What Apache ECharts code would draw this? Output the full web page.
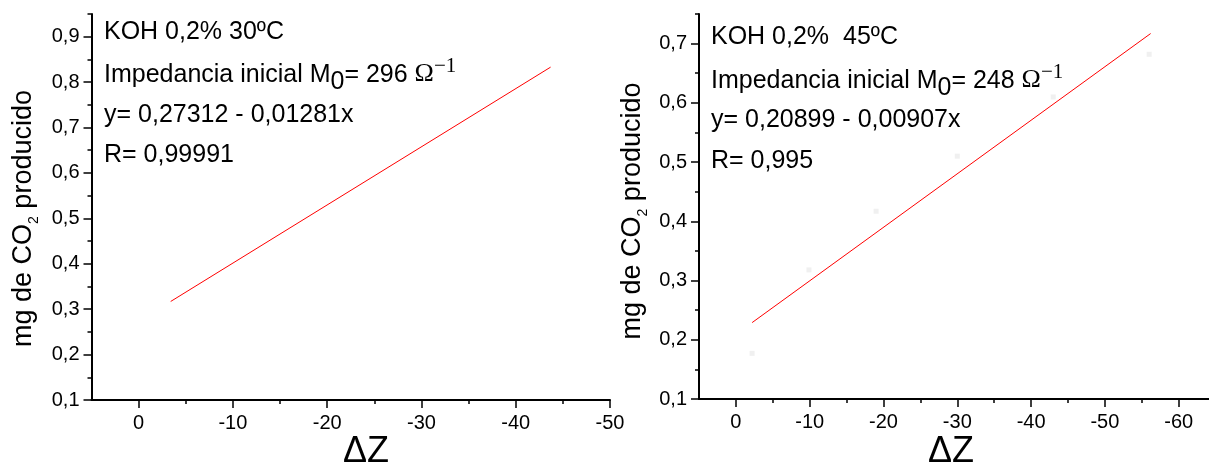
<!DOCTYPE html>
<html>
<head>
<meta charset="utf-8">
<script src="https://cdn.jsdelivr.net/npm/echarts@6/dist/echarts.min.js"></script>
<style>
  html, body { margin: 0; padding: 0; background: #fff; }
  #chart { width: 1209px; height: 462px; }
</style>
</head>
<body>
<div id="chart"></div>
<script>
// KOH 0,2% at 30 ºC: fitted line end points (ΔZ, mg CO2)
const fit30Z = [-3.4, -43.7];
const fit30CO2 = [0.317, 0.833];

// KOH 0,2% at 45 ºC: measured points and fitted line end points
const meas45Z = [-2.2, -9.9, -19, -30, -43, -56];
const meas45CO2 = [0.177, 0.318, 0.417, 0.51, 0.61, 0.682];
const fit45Z = [-2.2, -56.2];
const fit45CO2 = [0.229, 0.717];

// tick positions
const xMajor30 = [0, -10, -20, -30, -40, -50];
const xMinor30 = [-5, -15, -25, -35, -45];
const yMajor30 = [0.1, 0.2, 0.3, 0.4, 0.5, 0.6, 0.7, 0.8, 0.9];
const yMinor30 = [0.15, 0.25, 0.35, 0.45, 0.55, 0.65, 0.75, 0.85, 0.95];
const xMajor45 = [0, -10, -20, -30, -40, -50, -60, -70];
const xMinor45 = [-5, -15, -25, -35, -45, -55, -65];
const yMajor45 = [0.1, 0.2, 0.3, 0.4, 0.5, 0.6, 0.7];
const yMinor45 = [0.15, 0.25, 0.35, 0.45, 0.55, 0.65, 0.75];

const SANS = 'Liberation Sans, Arial, sans-serif';
const SERIF = 'Liberation Serif, Times New Roman, serif';
const INK = '#000';
const NOTE_SIZE = 25;

const pairs = (xs, ys) => xs.map((x, i) => [x, ys[i]]);
const comma = (v) => String(Math.round(v * 10) / 10).replace('.', ',');

function xAxisPair(grid, min, major, minor) {
  const base = {
    type: 'value', gridIndex: grid, position: 'bottom', inverse: true, min: min, max: 5, interval: 10,
    splitLine: { show: false }
  };
  return [
    Object.assign({}, base, {
      axisLine: { show: true, onZero: false, lineStyle: { color: INK, width: 2 } },
      axisTick: { show: true, inside: false, length: 8, customValues: major, lineStyle: { color: INK, width: 1.5 } },
      axisLabel: { show: true, customValues: major, margin: 13, color: INK, fontSize: 20, fontFamily: SANS,
                   formatter: (v) => String(v) }
    }),
    Object.assign({}, base, {
      axisLine: { show: false, onZero: false },
      axisTick: { show: true, inside: false, length: 4, customValues: minor, lineStyle: { color: INK, width: 1.5 } },
      axisLabel: { show: false }
    })
  ];
}

function yAxisPair(grid, max, major, minor) {
  const base = {
    type: 'value', gridIndex: grid, position: 'left', min: 0.1, max: max, interval: 0.1,
    splitLine: { show: false }
  };
  return [
    Object.assign({}, base, {
      axisLine: { show: true, onZero: false, lineStyle: { color: INK, width: 2 } },
      axisTick: { show: true, inside: false, length: 8, customValues: major, lineStyle: { color: INK, width: 1.5 } },
      axisLabel: { show: true, customValues: major, margin: 12, color: INK, fontSize: 20, fontFamily: SANS,
                   formatter: comma }
    }),
    Object.assign({}, base, {
      axisLine: { show: false, onZero: false },
      axisTick: { show: true, inside: false, length: 4, customValues: minor, lineStyle: { color: INK, width: 1.5 } },
      axisLabel: { show: false }
    })
  ];
}

// one annotation line; y is given as the text baseline
function plainLine(x, baseline, text) {
  return {
    type: 'text', x: x, y: baseline - 0.3465 * NOTE_SIZE, silent: true,
    style: { text: text, fill: INK, fontSize: NOTE_SIZE, fontFamily: SANS, verticalAlign: 'middle', align: 'left' }
  };
}

// "Impedancia inicial M0= ... Ω−1" with lowered 0 and raised −1
function impedanceLine(x, baseline, value) {
  const drop = 7;
  return {
    type: 'text', x: x, y: baseline + drop + NOTE_SIZE / 2 - 0.3465 * NOTE_SIZE, silent: true,
    style: {
      text: '{t|Impedancia inicial M}{d|0}{t|= ' + value + ' }{o|Ω}{u|−1}',
      fill: INK, align: 'left', verticalAlign: 'bottom',
      rich: {
        t: { fontSize: NOTE_SIZE, fontFamily: SANS, fill: INK, verticalAlign: 'bottom', padding: [0, 0, drop, 0] },
        d: { fontSize: NOTE_SIZE, fontFamily: SANS, fill: INK, verticalAlign: 'bottom', padding: [0, 0, 0, 0] },
        o: { fontSize: 26, fontFamily: SERIF, fill: INK, verticalAlign: 'bottom', padding: [0, 0, drop, 0] },
        u: { fontSize: 21, fontFamily: SERIF, fill: INK, verticalAlign: 'bottom', padding: [0, 0, drop + 10, 0] }
      }
    }
  };
}

function yTitle(x, y) {
  return {
    type: 'text', x: x, y: y, rotation: Math.PI / 2, silent: true,
    style: {
      text: '{a|mg de CO}{s|2}{a| producido}',
      fill: INK, align: 'center', verticalAlign: 'middle',
      rich: {
        a: { fontSize: 27, fontFamily: SANS, fill: INK, verticalAlign: 'bottom', padding: [0, 0, 4, 0] },
        s: { fontSize: 14, fontFamily: SANS, fill: INK, verticalAlign: 'bottom' }
      }
    }
  };
}

function xTitle(x) {
  return {
    type: 'text', x: x, y: 452, silent: true,
    style: { text: 'ΔZ', fill: INK, fontSize: 36, fontFamily: SANS, align: 'center', verticalAlign: 'middle' }
  };
}

const chart = echarts.init(document.getElementById('chart'), null, { renderer: 'canvas' });

chart.setOption({
  animation: false,
  backgroundColor: '#fff',
  grid: [
    { left: 91.5, top: 14, width: 518.5, height: 386, outerBoundsMode: 'none', containLabel: false },
    { left: 699, top: 14, width: 553.5, height: 385, outerBoundsMode: 'none', containLabel: false }
  ],
  xAxis: [].concat(xAxisPair(0, -50, xMajor30, xMinor30), xAxisPair(1, -70, xMajor45, xMinor45)),
  yAxis: [].concat(yAxisPair(0, 0.95, yMajor30, yMinor30), yAxisPair(1, 0.75, yMajor45, yMinor45)),
  series: [
    {
      name: 'Ajuste 30ºC', type: 'line', xAxisIndex: 0, yAxisIndex: 0,
      data: pairs(fit30Z, fit30CO2), showSymbol: false, silent: true,
      lineStyle: { color: '#ff0000', width: 1 }
    },
    {
      name: 'Datos 45ºC', type: 'scatter', xAxisIndex: 2, yAxisIndex: 2,
      data: pairs(meas45Z, meas45CO2), symbol: 'rect', symbolSize: 5, silent: true,
      itemStyle: { color: '#ececec' }
    },
    {
      name: 'Ajuste 45ºC', type: 'line', xAxisIndex: 2, yAxisIndex: 2,
      data: pairs(fit45Z, fit45CO2), showSymbol: false, silent: true,
      lineStyle: { color: '#ff0000', width: 1 }
    }
  ],
  graphic: [
    plainLine(104, 41, 'KOH 0,2% 30ºC'),
    impedanceLine(104, 83.3, '296'),
    plainLine(104, 123.3, 'y= 0,27312 - 0,01281x'),
    plainLine(104, 163.3, 'R= 0,99991'),
    plainLine(711, 46, 'KOH 0,2%  45ºC'),
    impedanceLine(711, 89.3, '248'),
    plainLine(711, 128.3, 'y= 0,20899 - 0,00907x'),
    plainLine(711, 169.3, 'R= 0,995'),
    yTitle(25.5, 218.5),
    yTitle(634.5, 211),
    xTitle(366),
    xTitle(951)
  ]
});
</script>
</body>
</html>
